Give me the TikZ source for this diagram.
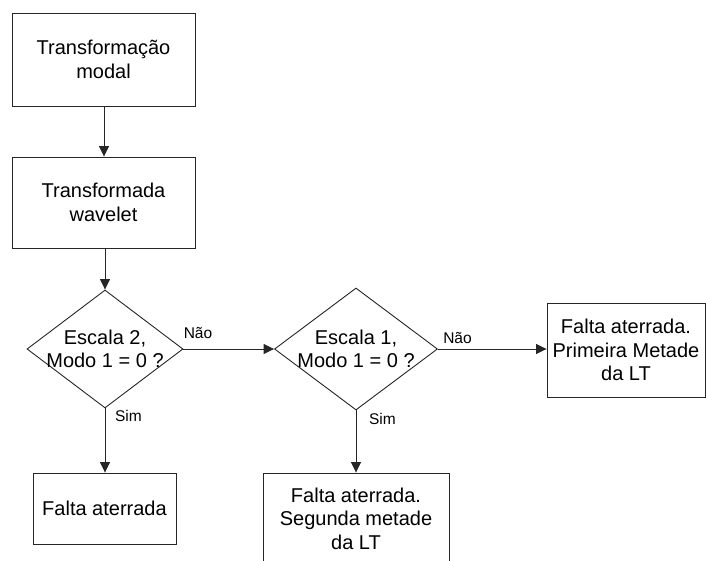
\documentclass[tikz,border=0pt]{standalone}
\usepackage{fontspec}
\setmainfont{Liberation Sans}
\usetikzlibrary{shapes.geometric,arrows.meta}
\tikzset{
  box/.style={draw=black!85, line width=0.9pt, rectangle, inner sep=0pt, align=center,
    font=\fontsize{20}{23.5}\selectfont},
  dia/.style={draw=black!85, line width=0.9pt, diamond, inner sep=0pt},
  txt/.style={inner sep=0pt, align=center, font=\fontsize{20}{23.5}\selectfont},
  lbl/.style={inner sep=0pt, font=\fontsize{15.5}{18}\selectfont},
  arr/.style={draw=black!85, line width=0.9pt, -{Triangle[length=10.5pt,width=10pt]}}
}
\begin{document}
\begin{tikzpicture}[x=1pt,y=-1pt]
\useasboundingbox (0,0) rectangle (706,561);
\clip (0,0) rectangle (706,561);
\node[box, minimum width=183pt, minimum height=93pt] (b1) at (103.5,59.5) {Transformação\\modal};
\node[box, minimum width=183pt, minimum height=91pt] (b2) at (103.5,202.5) {Transformada\\wavelet};
\node[dia, minimum width=156pt, minimum height=118pt] (d1) at (105,349) {};
\node[txt] (t1) at (d1.center) {Escala 2,\\Modo 1 = 0 ?};
\node[dia, minimum width=163pt, minimum height=122pt] (d2) at (356,349) {};
\node[txt] (t2) at (d2.center) {Escala 1,\\Modo 1 = 0 ?};
\node[box, minimum width=143pt, minimum height=71pt] (f1) at (104.5,508.5) {Falta aterrada};
\node[box, minimum width=186pt, minimum height=91pt] (f2) at (356,518.5) {Falta aterrada.\\Segunda metade\\da LT};
\node[box, minimum width=158pt, minimum height=94pt] (f3) at (626,350) {Falta aterrada.\\Primeira Metade\\da LT};
\draw[arr] (b1.south -| 104,0) -- (b2.north -| 104,0);
\draw[arr] (b2.south -| 105,0) -- (d1.north);
\draw[arr] (d1.east) -- (d2.west);
\draw[arr] (d2.east) -- (f3.west |- d2.east);
\draw[arr] (d1.south) -- (f1.north -| d1.south);
\draw[arr] (d2.south) -- (f2.north);
\node[lbl] (n1) at (198,333) {Não};
\node[lbl] (n2) at (457.5,338) {Não};
\node[lbl] (s1) at (128.5,416) {Sim};
\node[lbl] (s2) at (382.5,418.5) {Sim};
\end{tikzpicture}
\end{document}
